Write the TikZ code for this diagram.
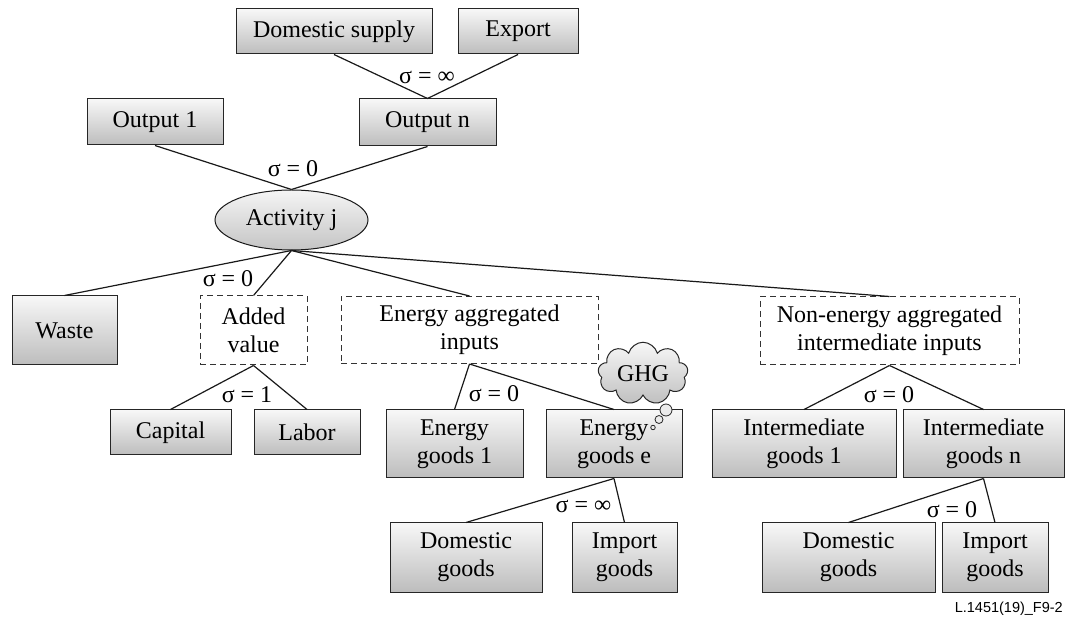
\documentclass[tikz,border=0pt]{standalone}
\usepackage{fontspec}
\setmainfont{Liberation Serif}
\newfontfamily\labelfont{Liberation Sans}
\usetikzlibrary{shapes.geometric,shapes.symbols,shadings}
\tikzset{
  txt/.style={font=\fontsize{24}{28}\selectfont},
  box/.style={txt, draw=black!85, line width=1pt, top color=white!97!black, bottom color=white!74!black, align=center, inner sep=0pt},
  dbox/.style={txt, draw=black!80, line width=1pt, dash pattern=on 6pt off 4pt, align=center, inner sep=0pt},
  oval/.style={txt, ellipse, draw=black!90, line width=1pt, top color=white!96!black, bottom color=white!77!black, inner sep=0pt},
  thought/.style={txt, cloud, cloud puffs=9, aspect=1.6, draw=black!85, line width=1pt, top color=white!97!black, bottom color=white!75!black, inner sep=0pt},
  bubble/.style={circle, draw=black!85, line width=0.8pt, fill=white!92!black, inner sep=0pt},
  link/.style={line width=1.2pt, draw=black!90},
  sig/.style={txt, anchor=base, inner sep=0pt},
}
\begin{document}
\begin{tikzpicture}[x=1pt,y=-1pt]
\useasboundingbox (0,0) rectangle (1069,617);
% top level
\node[box, minimum width=196pt, minimum height=45pt] (dsup) at (334,31.5) {Domestic supply};
\node[box, minimum width=120pt, minimum height=45pt] (export) at (518,31.5) {Export};
\node[box, minimum width=137pt, minimum height=47pt] (outn) at (427.5,122.5) {Output n};
\node[box, minimum width=136pt, minimum height=46pt] (out1) at (155,122) {Output 1};
\node[oval, minimum width=153pt, minimum height=60pt] (act) at (291.5,220) {Activity j};
% second level
\node[box, minimum width=105pt, minimum height=69pt] (waste) at (64.5,330.5) {Waste};
\node[dbox, minimum width=107pt, minimum height=69pt] (added) at (253.5,330.5) {Added\\value};
\node[dbox, minimum width=257pt, minimum height=67pt] (eagg) at (469.5,330) {Energy aggregated\\inputs};
\node[dbox, minimum width=259pt, minimum height=68pt] (neagg) at (889.5,331) {Non-energy aggregated\\intermediate inputs};
% third level
\node[box, minimum width=121pt, minimum height=45pt] (capital) at (170.5,432.5) {Capital};
\node[box, minimum width=106pt, minimum height=45pt] (labor) at (307,432.5) {Labor};
\node[box, minimum width=137pt, minimum height=68pt] (eg1) at (454.5,444) {Energy\\goods 1};
\node[box, minimum width=136pt, minimum height=68pt] (ege) at (614,444) {Energy\\goods e};
\node[box, minimum width=184pt, minimum height=68pt] (ig1) at (804,444) {Intermediate\\goods 1};
\node[box, minimum width=161pt, minimum height=68pt] (ign) at (983.5,444) {Intermediate\\goods n};
% fourth level
\node[box, minimum width=152pt, minimum height=69pt] (dg1) at (466,557.5) {Domestic\\goods};
\node[box, minimum width=105pt, minimum height=69pt] (imp1) at (624.5,557.5) {Import\\goods};
\node[box, minimum width=173pt, minimum height=69pt] (dg2) at (848.5,557.5) {Domestic\\goods};
\node[box, minimum width=106pt, minimum height=69pt] (imp2) at (995,557.5) {Import\\goods};
% GHG thought cloud
\node[thought, minimum width=90pt, minimum height=57pt] (ghg) at (643,373.5) {GHG};
\node[bubble, minimum size=12pt] (b1) at (666,410) {};
\node[bubble, minimum size=8pt] (b2) at (659,419.5) {};
\node[bubble, minimum size=4.5pt] (b3) at (653,427.5) {};
% connectors
\draw[link] (dsup.south) -- (outn.north);
\draw[link] (export.south) -- (outn.north);
\draw[link] (out1.south) -- (act.north);
\draw[link] (outn.south) -- (act.north);
\draw[link] (act.south) -- (waste.north);
\draw[link] (act.south) -- (added.north);
\draw[link] (act.south) -- (eagg.north);
\draw[link] (act.south) -- (neagg.north);
\draw[link] (added.south) -- (capital.north);
\draw[link] (added.south) -- (labor.north);
\draw[link] (eagg.south) -- (eg1.north);
\draw[link] (eagg.south) -- (ege.north);
\draw[link] (neagg.south) -- (ig1.north);
\draw[link] (neagg.south) -- (ign.north);
\draw[link] (ege.south) -- (dg1.north);
\draw[link] (ege.south) -- (imp1.north);
\draw[link] (ign.south) -- (dg2.north);
\draw[link] (ign.south) -- (imp2.north);
% sigma labels
\node[sig] (s1) at (427,83.5) {σ = ∞};
\node[sig] (s2) at (293,176.5) {σ = 0};
\node[sig] (s3) at (228,286.5) {σ = 0};
\node[sig] (s4) at (247,402.5) {σ = 1};
\node[sig] (s5) at (494,401.5) {σ = 0};
\node[sig] (s6) at (583.5,512.5) {σ = ∞};
\node[sig] (s7) at (889,402.5) {σ = 0};
\node[sig] (s8) at (952,517.5) {σ = 0};
% figure code
\node[anchor=base east, inner sep=0pt, font=\labelfont\fontsize{14.5}{16}\selectfont] (code) at (1063,612) {L.1451(19)\_F9-2};
\end{tikzpicture}
\end{document}
